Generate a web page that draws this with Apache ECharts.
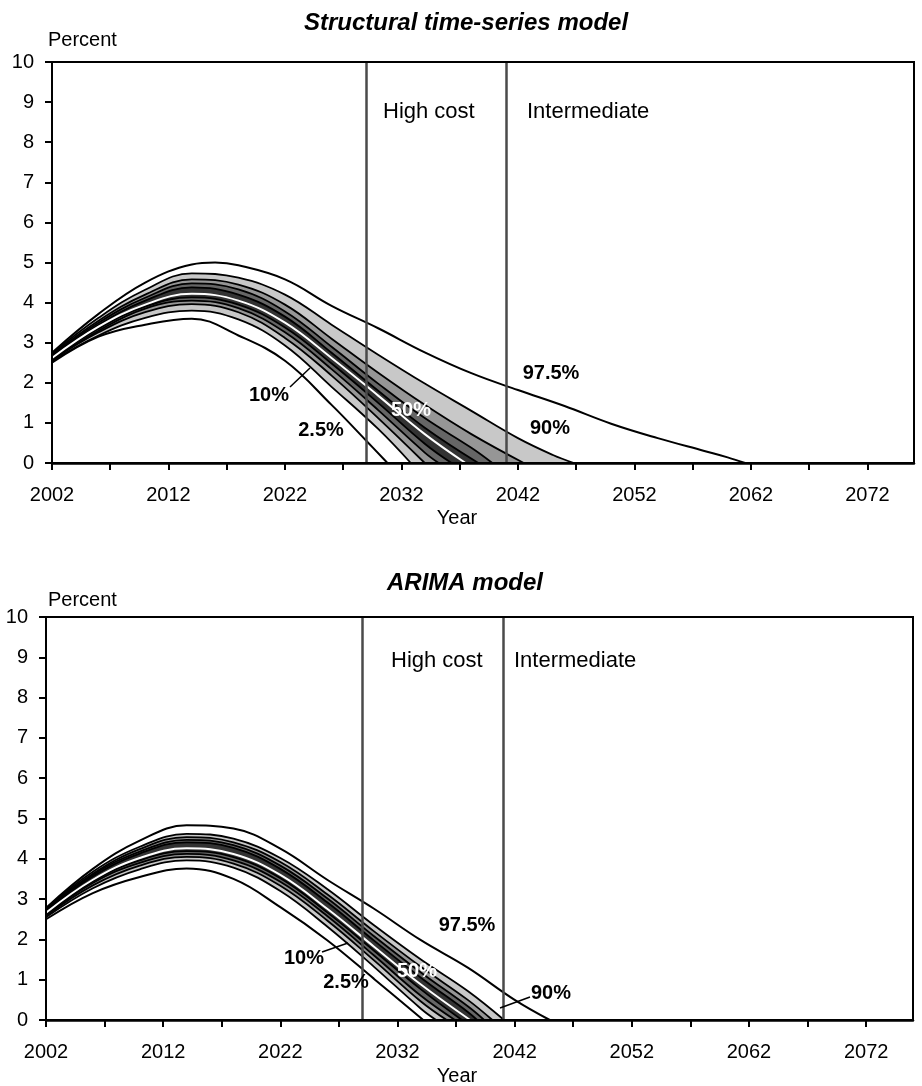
<!DOCTYPE html>
<html><head><meta charset="utf-8">
<script src="https://cdn.jsdelivr.net/npm/echarts@6/dist/echarts.min.js"></script>
<style>html,body{margin:0;padding:0;background:#fff}#c{width:922px;height:1086px}</style>
</head><body><div id="c"></div>
<script>
// ---- categories / ticks ----
const years = [];
for (let y = 2002; y <= 2076; y++) years.push(String(y));
const costLines = [2029, 2041]; // High cost, Intermediate

// ---- Structural time-series model (percentiles) ----
const sts975 = [[2002,2.75],[2006,3.72],[2010,4.5],[2014,4.95],[2016,5.0],[2018,4.93],[2022,4.58],[2026,3.92],[2030,3.36],[2034,2.76],[2038,2.24],[2042,1.82],[2046,1.42],[2050,0.98],[2054,0.62],[2058,0.3],[2060,0.14],[2061.5,0]];
const sts90 = [[2002,2.72],[2006,3.62],[2010,4.32],[2014,4.73],[2018,4.62],[2022,4.2],[2026,3.45],[2030,2.7],[2034,1.98],[2038,1.3],[2042,0.62],[2045,0.2],[2046.8,0]];
const sts80 = [[2002,2.7],[2006,3.55],[2010,4.2],[2014,4.58],[2018,4.45],[2022,3.95],[2026,3.1],[2030,2.25],[2034,1.45],[2038,0.72],[2042.5,0]];
const sts70 = [[2002,2.68],[2006,3.5],[2010,4.12],[2014,4.48],[2018,4.33],[2022,3.78],[2026,2.9],[2030,1.98],[2034,1.12],[2038,0.38],[2039.8,0]];
const sts60 = [[2002,2.66],[2006,3.45],[2010,4.05],[2014,4.38],[2018,4.2],[2022,3.65],[2026,2.75],[2030,1.8],[2034,0.88],[2038.6,0]];
const sts50 = [[2002,2.62],[2006,3.4],[2010,3.95],[2014,4.22],[2018,4.05],[2022,3.5],[2026,2.62],[2030,1.68],[2034,0.72],[2037.5,0]];
const sts40 = [[2002,2.6],[2006,3.35],[2010,3.9],[2014,4.13],[2018,3.95],[2022,3.38],[2026,2.48],[2030,1.5],[2034,0.48],[2036.3,0]];
const sts30 = [[2002,2.58],[2006,3.3],[2010,3.85],[2014,4.05],[2018,3.86],[2022,3.26],[2026,2.34],[2030,1.32],[2034,0.26],[2035.2,0]];
const sts20 = [[2002,2.56],[2006,3.26],[2010,3.76],[2014,3.96],[2018,3.76],[2022,3.12],[2026,2.18],[2030,1.12],[2034,0]];
const sts10 = [[2002,2.54],[2006,3.18],[2010,3.62],[2014,3.8],[2018,3.58],[2022,2.93],[2026,1.9],[2030,0.85],[2032.8,0]];
const sts025 = [[2002,2.5],[2006,3.15],[2010,3.45],[2014,3.6],[2018,3.18],[2022,2.55],[2026,1.45],[2029,0.55],[2030.8,0]];

// ---- ARIMA model (percentiles) ----
const ar975 = [[2002,2.78],[2006,3.75],[2010,4.45],[2014,4.83],[2018,4.75],[2022,4.25],[2026,3.48],[2030,2.76],[2034,1.98],[2038,1.3],[2042,0.5],[2045,0]];
const ar90 = [[2002,2.76],[2006,3.68],[2010,4.3],[2014,4.62],[2018,4.5],[2022,4.02],[2026,3.25],[2030,2.35],[2034,1.5],[2038,0.72],[2041.1,0]];
const ar80 = [[2002,2.74],[2006,3.63],[2010,4.24],[2014,4.54],[2018,4.41],[2022,3.92],[2026,3.12],[2030,2.2],[2034,1.32],[2038,0.5],[2040.1,0]];
const ar70 = [[2002,2.72],[2006,3.6],[2010,4.18],[2014,4.47],[2018,4.34],[2022,3.83],[2026,3.02],[2030,2.08],[2034,1.18],[2038,0.34],[2039.4,0]];
const ar60 = [[2002,2.7],[2006,3.56],[2010,4.13],[2014,4.41],[2018,4.27],[2022,3.75],[2026,2.92],[2030,1.97],[2034,1.05],[2038,0.2],[2038.8,0]];
const ar50 = [[2002,2.66],[2006,3.48],[2010,4.02],[2014,4.26],[2018,4.12],[2022,3.6],[2026,2.76],[2030,1.82],[2034,0.88],[2038.2,0]];
const ar40 = [[2002,2.63],[2006,3.44],[2010,3.96],[2014,4.19],[2018,4.04],[2022,3.52],[2026,2.67],[2030,1.72],[2034,0.76],[2037.5,0]];
const ar30 = [[2002,2.6],[2006,3.4],[2010,3.9],[2014,4.12],[2018,3.96],[2022,3.43],[2026,2.58],[2030,1.6],[2034,0.6],[2036.9,0]];
const ar20 = [[2002,2.58],[2006,3.34],[2010,3.83],[2014,4.05],[2018,3.88],[2022,3.33],[2026,2.47],[2030,1.48],[2034,0.46],[2036.2,0]];
const ar10 = [[2002,2.55],[2006,3.27],[2010,3.74],[2014,3.96],[2018,3.78],[2022,3.2],[2026,2.32],[2030,1.32],[2034,0.28],[2035.3,0]];
const ar025 = [[2002,2.5],[2006,3.15],[2010,3.55],[2014,3.76],[2018,3.5],[2022,2.8],[2026,1.98],[2030,1.02],[2034.2,0]];

const FONT = '"Liberation Sans", Arial, sans-serif';
const LIGHT = '#c8c8c8', MED = '#969696', DARK = '#666666', DARKEST = '#333333';

const chart = echarts.init(document.getElementById('c'), null, {renderer: 'canvas'});

const grids = [
  {left: 52, top: 62, width: 862, height: 401},
  {left: 46, top: 617, width: 867, height: 403}
];

function catAxis(gi) {
  return {
    type: 'category', gridIndex: gi, data: years, boundaryGap: false, z: 10,
    axisLine: {lineStyle: {color: '#000', width: 2.5}},
    axisTick: {interval: (i) => i % 5 === 0, length: 7, lineStyle: {color: '#000', width: 2}},
    axisLabel: {interval: (i) => i % 10 === 0, color: '#000', fontSize: 20, fontFamily: FONT, margin: 22},
    splitLine: {show: false}
  };
}
function valXAxis(gi) {
  return {type: 'value', gridIndex: gi, min: 2002, max: 2076, show: false};
}
function yAx(gi) {
  return {
    type: 'value', gridIndex: gi, min: 0, max: 10, interval: 1, z: 10,
    axisLine: {show: true, lineStyle: {color: '#000', width: 2}},
    axisTick: {show: true, length: 7, lineStyle: {color: '#000', width: 2}},
    axisLabel: {color: '#000', fontSize: 20, fontFamily: FONT, margin: 18},
    splitLine: {show: false}
  };
}

function s(data, gi, fill, lineColor, width, extra) {
  const o = {
    type: 'line', xAxisIndex: gi * 2 + 1, yAxisIndex: gi, data: data,
    smooth: 0.4, symbol: 'none', silent: true, animation: false,
    lineStyle: {color: lineColor, width: width}
  };
  if (fill) o.areaStyle = {color: fill, opacity: 1};
  return Object.assign(o, extra || {});
}

function seriesFor(gi, d) {
  const ml = {
    silent: true, symbol: ['none', 'none'], label: {show: false},
    lineStyle: {color: '#4a4a4a', width: 2.5, type: 'solid'},
    data: costLines.map(v => ({xAxis: v}))
  };
  return [
    s(d.p90, gi, LIGHT, '#000', 1.8),
    s(d.p80, gi, MED, '#000', 1.8),
    s(d.p70, gi, DARK, '#000', 1.8),
    s(d.p60, gi, DARKEST, '#000', 1.8),
    s(d.p40, gi, DARK, '#000', 1.8),
    s(d.p30, gi, MED, '#000', 1.8),
    s(d.p20, gi, LIGHT, '#000', 1.8),
    s(d.p10, gi, '#ffffff', '#000', 1.8),
    s(d.p025, gi, null, '#000', 2),
    s(d.p975, gi, null, '#000', 2),
    s(d.p50, gi, null, '#ffffff', 2, {markLine: ml, z: 3})
  ];
}

const series = [].concat(
  seriesFor(0, {p975: sts975, p90: sts90, p80: sts80, p70: sts70, p60: sts60, p50: sts50, p40: sts40, p30: sts30, p20: sts20, p10: sts10, p025: sts025}),
  seriesFor(1, {p975: ar975, p90: ar90, p80: ar80, p70: ar70, p60: ar60, p50: ar50, p40: ar40, p30: ar30, p20: ar20, p10: ar10, p025: ar025})
);

function txt(text, x, y, opts) {
  opts = opts || {};
  return {
    type: 'text', x: x, y: y, z: 100, silent: true,
    style: {
      text: text, fill: opts.fill || '#000',
      font: (opts.font || '') + ' ' + (opts.size || 20) + 'px ' + FONT,
      align: opts.align || 'center', verticalAlign: 'middle'
    }
  };
}
function seg(x1, y1, x2, y2) {
  return {type: 'line', z: 100, silent: true, shape: {x1, y1, x2, y2}, style: {stroke: '#000', lineWidth: 1.5}};
}

const graphics = [
  txt('Structural time-series model', 466, 23, {font: 'italic bold', size: 24}),
  txt('Percent', 48, 40, {align: 'left'}),
  txt('High cost', 383, 112, {align: 'left', size: 22}),
  txt('Intermediate', 527, 112, {align: 'left', size: 22}),
  txt('Year', 457, 518),
  txt('10%', 269, 395, {font: 'bold'}),
  txt('2.5%', 321, 430, {font: 'bold'}),
  txt('50%', 411, 410, {font: 'bold', fill: '#fff'}),
  txt('97.5%', 551, 373, {font: 'bold'}),
  txt('90%', 550, 428, {font: 'bold'}),
  seg(290, 387, 310, 368),

  txt('ARIMA model', 465, 583, {font: 'italic bold', size: 24}),
  txt('Percent', 48, 600, {align: 'left'}),
  txt('High cost', 391, 661, {align: 'left', size: 22}),
  txt('Intermediate', 514, 661, {align: 'left', size: 22}),
  txt('Year', 457, 1076),
  txt('10%', 304, 958, {font: 'bold'}),
  txt('2.5%', 346, 982, {font: 'bold'}),
  txt('50%', 417, 971, {font: 'bold', fill: '#fff'}),
  txt('97.5%', 467, 925, {font: 'bold'}),
  txt('90%', 551, 993, {font: 'bold'}),
  seg(322, 952, 348, 943),
  seg(530, 997, 500, 1008)
];

chart.setOption({
  animation: false,
  backgroundColor: '#fff',
  grid: grids.map(g => Object.assign({show: true, borderColor: '#000', borderWidth: 2, backgroundColor: 'transparent', z: 10}, g)),
  xAxis: [catAxis(0), valXAxis(0), catAxis(1), valXAxis(1)],
  yAxis: [yAx(0), yAx(1)],
  series: series,
  graphic: {elements: graphics}
});
</script>
</body></html>
